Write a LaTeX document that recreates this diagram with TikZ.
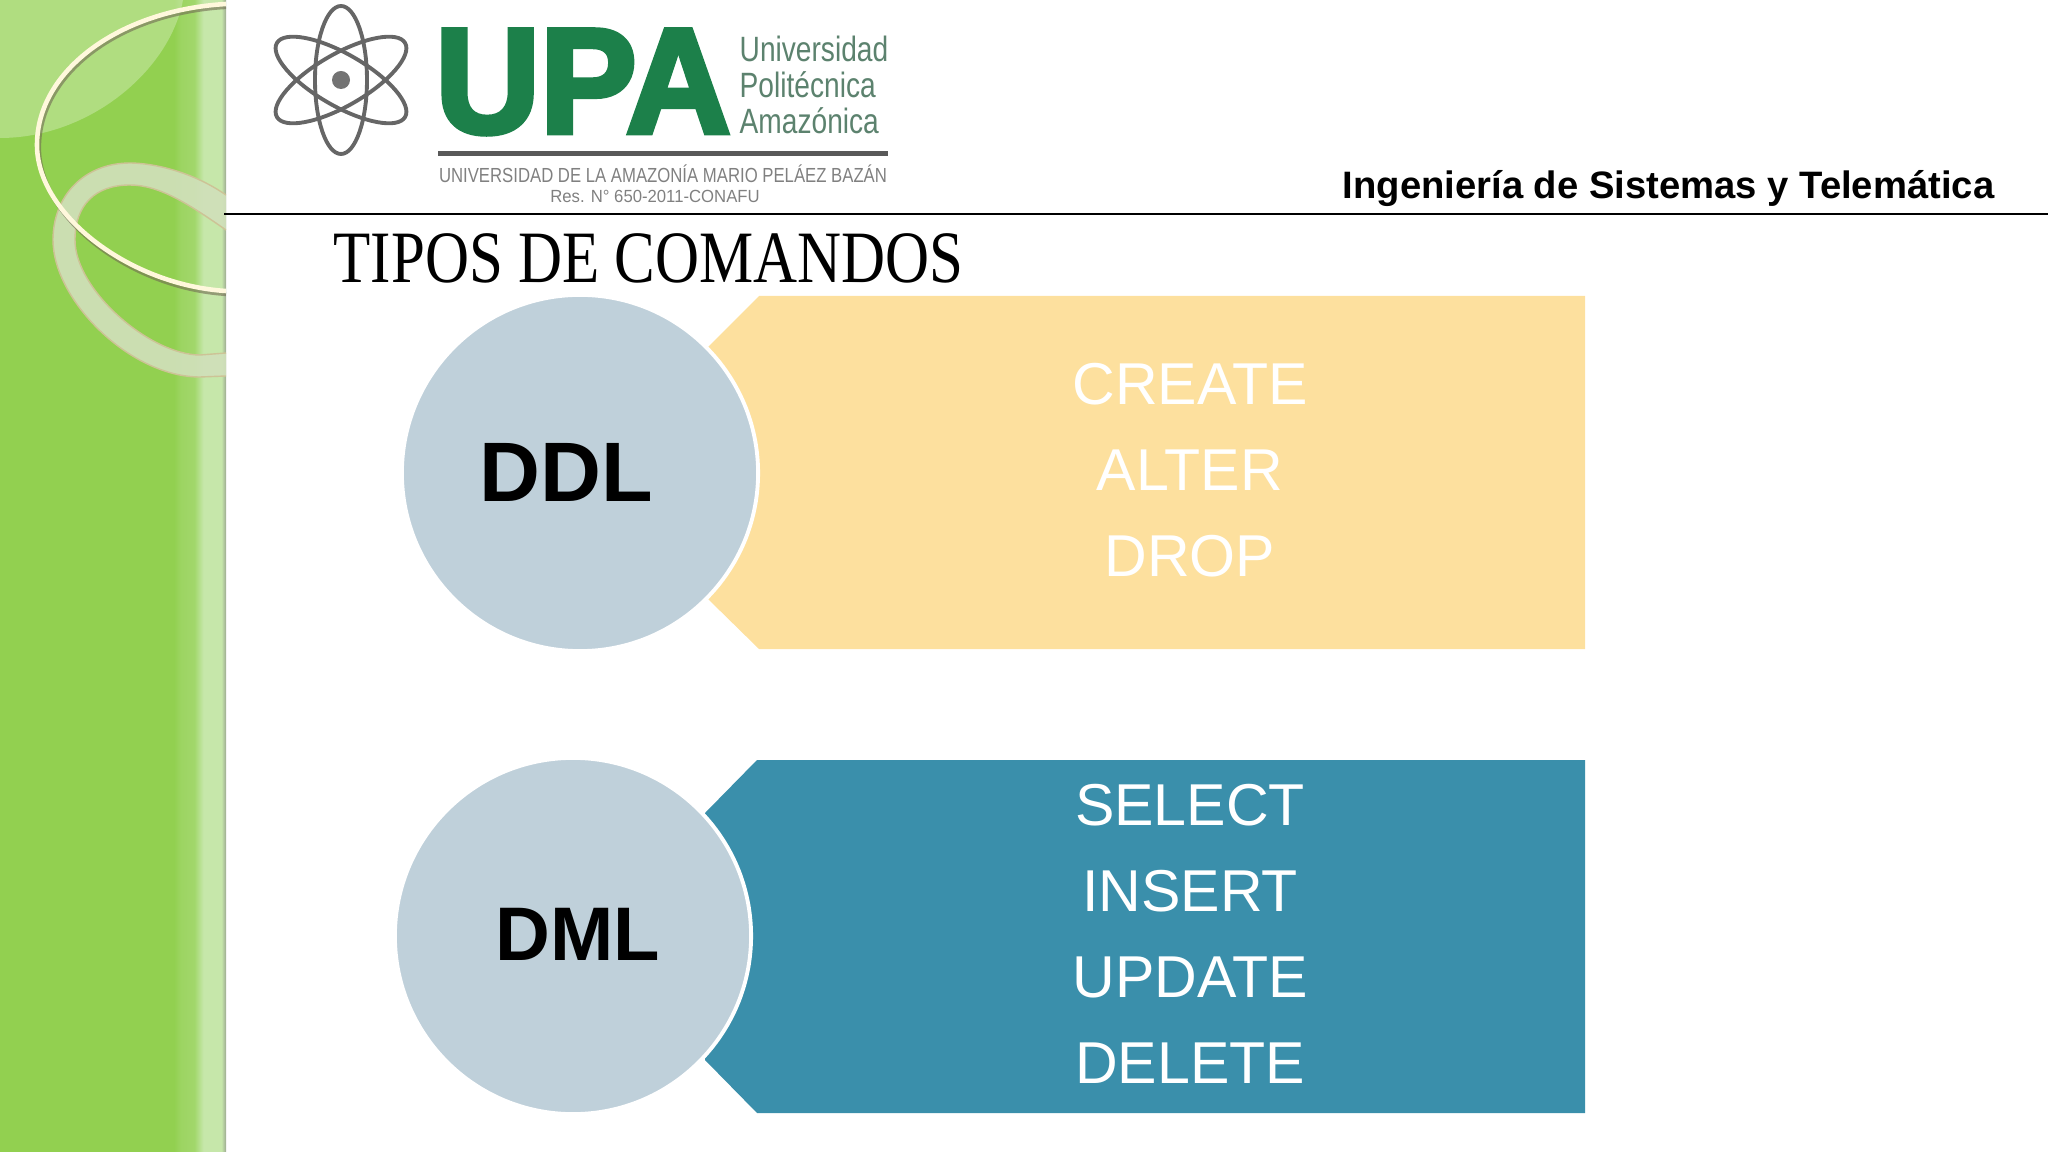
\documentclass[tikz,border=0pt]{standalone}
\usepackage{fontspec}
\setmainfont{Liberation Sans}
\newfontfamily\titlefont[FakeStretch=0.825]{Liberation Serif}
\newfontfamily\logofont[FakeStretch=0.8]{Liberation Sans}
\newfontfamily\smallfont[FakeStretch=0.82]{Liberation Sans}
\newfontfamily\resfont[FakeStretch=0.95]{Liberation Sans}
\newfontfamily\upafont[FakeStretch=0.97,FakeBold=3.5]{Liberation Sans Bold}
\definecolor{bandgreen}{RGB}{146,208,80}
\definecolor{bandpale}{RGB}{198,231,170}
\definecolor{ringcream}{RGB}{255,248,220}
\definecolor{ringpale}{RGB}{208,224,186}
\definecolor{ringtan}{RGB}{205,195,150}
\definecolor{ddlyellow}{RGB}{253,224,158}
\definecolor{dmlblue}{RGB}{58,143,171}
\definecolor{circgray}{RGB}{191,208,218}
\definecolor{upagreen}{RGB}{28,128,74}
\definecolor{logogray}{RGB}{92,130,110}
\pgfdeclarehorizontalshading{bandshade}{100bp}{
  color(0bp)=(bandgreen); color(63.5bp)=(bandgreen); color(65bp)=(bandgreen!80!bandpale);
  color(68bp)=(bandgreen!70!bandpale); color(70bp)=(bandpale); color(74bp)=(bandpale);
  color(75bp)=(gray!60!bandpale); color(100bp)=(gray!60!bandpale)}
\begin{document}
\begin{tikzpicture}[x=0.01cm, y=-0.01cm,
    circ/.style={circle, draw=white, line width=1.1pt, fill=circgray,
      minimum size=3.56cm, inner sep=0pt},
    cmds/.style={white, align=center, font=\fontsize{16.8}{24.5}\selectfont},
    atom/.style={line width=1.1pt, black!60}]

  \useasboundingbox (0,0) rectangle (2048,1152);

  % === Green band on the left ===
  \begin{scope}
    \clip (0,0) rectangle (226,1152);
    \shade[shading=bandshade] (0,0) rectangle (226,1152);
    \fill[white, opacity=0.28] (0,0) -- (183,0)
      .. controls (170,70) and (90,138) .. (0,138) -- cycle;

    % Wide ring
    \fill[ringpale, opacity=0.92, even odd rule]
      (226,195) .. controls (190,170) and (150,163) .. (130,163)
      .. controls (85,163) and (53,195) .. (53,240)
      .. controls (53,300) and (130,377) .. (200,377) -- (226,376)
      -- (226,353) -- (200,355)
      .. controls (150,355) and (75,290) .. (75,240)
      .. controls (75,205) and (95,185) .. (130,185)
      .. controls (160,185) and (190,205) .. (226,230) -- cycle;
    \draw[ringtan, line width=0.4pt]
      (226,195) .. controls (190,170) and (150,163) .. (130,163)
      .. controls (85,163) and (53,195) .. (53,240)
      .. controls (53,300) and (130,377) .. (200,377) -- (226,376);
    \draw[ringtan, line width=0.4pt]
      (226,353) -- (200,355)
      .. controls (150,355) and (75,290) .. (75,240)
      .. controls (75,205) and (95,185) .. (130,185)
      .. controls (160,185) and (190,205) .. (226,230);

    % Thin ring, shadow first
    \draw[black!45!ringtan, line width=1.2pt, opacity=0.6]
      (226,7) .. controls (120,13) and (39,73) .. (39,148)
      .. controls (39,218) and (130,288) .. (226,294);
    \draw[ringcream, line width=1.3pt]
      (226,4) .. controls (120,10) and (37,70) .. (37,145)
      .. controls (37,215) and (130,285) .. (226,291);
  \end{scope}

  % === Header ===
  % Atom of the logo
  \begin{scope}[shift={(341,80)}]
    \foreach \a in {90,30,-30}
      \draw[atom, rotate=\a] (0,0) ellipse [x radius=74, y radius=26];
    \fill[black!55] (0,0) circle [radius=9];
  \end{scope}

  % Logo lettering
  \node[upagreen, inner sep=0pt, anchor=center, font=\upafont\fontsize{42.5}{44}\selectfont]
    (upa) at (583,82) {UPA};
  \node[logogray, inner sep=0pt, align=left, anchor=west,
    font=\logofont\fontsize{10}{10.3}\selectfont]
    (upaname) at (739,85) {Universidad\\Politécnica\\Amazónica};
  \fill[black!65] (438,151) rectangle (888,156);
  \node[black!50, inner sep=0pt, font=\smallfont\fontsize{5.8}{6}\selectfont]
    (upafull) at (663,174) {UNIVERSIDAD DE LA AMAZONÍA MARIO PELÁEZ BAZÁN};
  \node[black!50, inner sep=0pt, font=\resfont\fontsize{5}{6}\selectfont]
    (upares) at (655,196) {Res. N° 650-2011-CONAFU};

  \node[anchor=east, inner sep=0pt, font=\bfseries\fontsize{10.87}{12}\selectfont]
    (career) at (1995,189) {Ingeniería de Sistemas y Telemática};
  \draw[line width=0.35pt] (224,214) -- (2048,214);

  \node[anchor=base west, inner sep=0pt, font=\titlefont\fontsize{21}{22}\selectfont]
    (title) at (333,283) {TIPOS DE COMANDOS};

  % === DDL block ===
  \fill[ddlyellow] (759,296) -- (1585,296) -- (1585,649) -- (759,649)
    -- (708,599) -- (708,347) -- cycle;
  \node[circ] (ddl) at (580,473) {};
  \node[font=\bfseries\fontsize{24}{24}\selectfont] (ddlname) at (566,472) {DDL};
  \node[cmds] (ddlcmds) at (1190,470) {CREATE\\ALTER\\DROP};

  % === DML block ===
  \fill[dmlblue] (757,760) -- (1585,760) -- (1585,1113) -- (757,1113)
    -- (705,1060) -- (705,813) -- cycle;
  \node[circ] (dml) at (573,936) {};
  \node[font=\bfseries\fontsize{21.6}{22}\selectfont] (dmlname) at (578,934) {DML};
  \node[cmds] (dmlcmds) at (1190,934) {SELECT\\INSERT\\UPDATE\\DELETE};

\end{tikzpicture}
\end{document}
